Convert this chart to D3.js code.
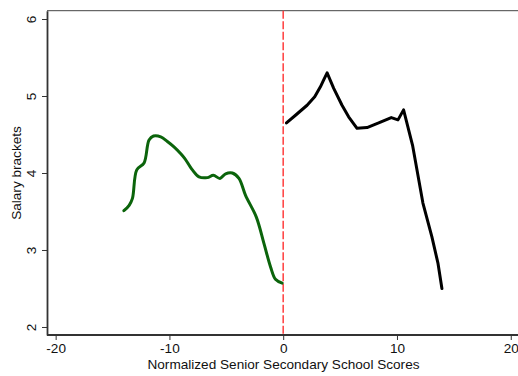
<!DOCTYPE html>
<meta charset="utf-8">
<script src="https://d3js.org/d3.v7.min.js"></script>
<style>
body { margin: 0; background: #fff; }
svg { display: block; font-family: "Liberation Sans", Arial, sans-serif; }
</style>
<div id="chart"></div>
<script>
// left of cutoff (green) and right of cutoff (black)
const left_x = [-14.0, -13.54, -13.25, -12.87, -12.23, -11.79, -11.4, -10.76, -10.18, -9.6, -9.0, -8.66, -7.98, -7.4, -6.67, -6.14, -5.56, -5.06, -4.47, -3.89, -3.31, -2.37, -1.7, -1.11, -0.68, -0.09];
const left_y = [3.51, 3.58, 3.67, 4.04, 4.13, 4.43, 4.48, 4.47, 4.41, 4.34, 4.25, 4.19, 4.04, 3.95, 3.94, 3.97, 3.93, 3.99, 4.0, 3.93, 3.71, 3.43, 3.09, 2.78, 2.62, 2.57];
const right_x = [0.29, 1.08, 2.1, 2.77, 3.27, 3.56, 3.86, 4.44, 5.17, 5.75, 6.49, 7.37, 8.39, 9.5, 10.09, 10.58, 11.37, 12.28, 13.07, 13.6, 13.95];
const right_y = [4.65, 4.75, 4.88, 4.99, 5.12, 5.21, 5.30, 5.10, 4.88, 4.73, 4.58, 4.59, 4.65, 4.72, 4.69, 4.82, 4.36, 3.61, 3.17, 2.83, 2.50];
const x_ticks = [-20, -10, 0, 10, 20];
const y_ticks = [2, 3, 4, 5, 6];
const cutoff = 0;

const width = 518, height = 376;
const margin = {top: 10.7, right: -1.4, bottom: 41, left: 47};
const fs = 13.6;

const svg = d3.select('#chart').append('svg')
	.attr('width', width)
	.attr('height', height);

const x = d3.scaleLinear().domain([-20.76, 20.76]).range([margin.left, width - margin.right]);
const y = d3.scaleLinear().domain([1.896, 6.108]).range([height - margin.bottom, margin.top]);

// plot region outline (top)
svg.append('line')
	.attr('x1', margin.left).attr('x2', width)
	.attr('y1', margin.top).attr('y2', margin.top)
	.attr('stroke', '#444').attr('stroke-width', 1);

const xAxis = svg.append('g')
	.attr('transform', `translate(0,${height - margin.bottom})`)
	.call(d3.axisBottom(x).tickValues(x_ticks).tickFormat(d => String(d))
		.tickSize(5).tickPadding(3).tickSizeOuter(0));
const yAxis = svg.append('g')
	.attr('transform', `translate(${margin.left},0)`)
	.call(d3.axisLeft(y).tickValues(y_ticks).tickFormat(d => String(d))
		.tickSize(5).tickPadding(3).tickSizeOuter(0));

[xAxis, yAxis].forEach(a => {
	a.select('.domain').attr('stroke', '#333').attr('stroke-width', 1.8);
	a.selectAll('.tick line').attr('stroke', '#333');
	a.selectAll('text').attr('fill', '#111').attr('font-size', fs)
		.attr('font-family', '"Liberation Sans", Arial, sans-serif');
});
xAxis.select('.domain').attr('d', `M${margin.left},0H${width}`);
yAxis.selectAll('.tick text')
	.attr('transform', 'rotate(-90)')
	.attr('x', 0).attr('y', -16)
	.attr('dy', '0.35em')
	.style('text-anchor', 'middle');

// axis titles
svg.append('text')
	.attr('x', 283.5).attr('y', 368.5)
	.attr('text-anchor', 'middle')
	.attr('font-size', fs).attr('fill', '#111')
	.text('Normalized Senior Secondary School Scores');
svg.append('text')
	.attr('transform', `translate(21,${y(4)}) rotate(-90)`)
	.attr('text-anchor', 'middle')
	.attr('font-size', fs).attr('fill', '#111')
	.text('Salary brackets');

// cutoff line
svg.append('line')
	.attr('x1', x(cutoff)).attr('x2', x(cutoff))
	.attr('y1', margin.top).attr('y2', height - margin.bottom)
	.attr('stroke', '#ff4a4a').attr('stroke-width', 1.6)
	.attr('stroke-dasharray', '8,2.5');

const line = d3.line().x(d => x(d[0])).y(d => y(d[1]));

svg.append('path')
	.datum(d3.zip(left_x, left_y))
	.attr('d', line.curve(d3.curveCatmullRom.alpha(0.5)))
	.attr('fill', 'none')
	.attr('stroke', '#0b640b')
	.attr('stroke-width', 3)
	.attr('stroke-linejoin', 'round')
	.attr('stroke-linecap', 'round');

svg.append('path')
	.datum(d3.zip(right_x, right_y))
	.attr('d', line.curve(d3.curveLinear))
	.attr('fill', 'none')
	.attr('stroke', '#000')
	.attr('stroke-width', 3)
	.attr('stroke-linejoin', 'round')
	.attr('stroke-linecap', 'round');
</script>
